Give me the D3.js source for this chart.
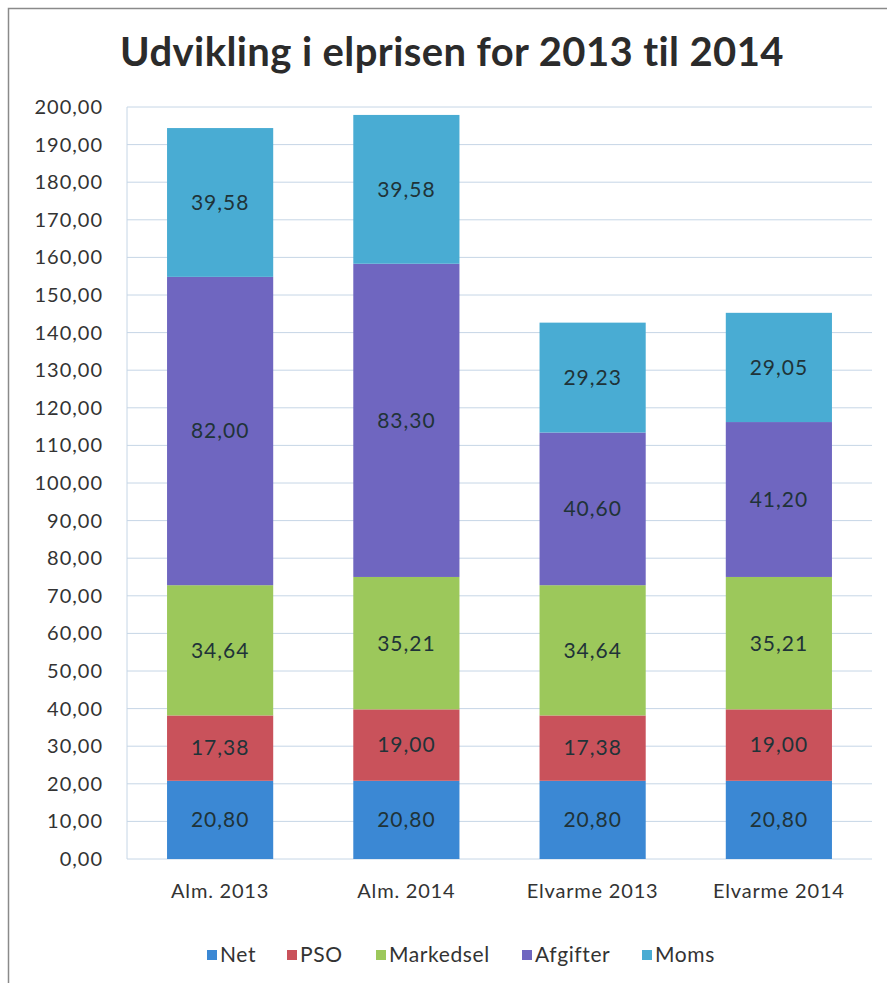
<!DOCTYPE html>
<html>
<head>
<meta charset="utf-8">
<script src="https://cdn.jsdelivr.net/npm/d3@7"></script>
<style>
  body { margin: 0; background: #fff; }
  svg { display: block; font-family: Lato, "Open Sans", sans-serif; }
</style>
</head>
<body>
<svg id="chart" width="887" height="983"></svg>
<script>
// Udvikling i elprisen, stacked columns

const categories = ["Alm. 2013", "Alm. 2014", "Elvarme 2013", "Elvarme 2014"];
const seriesNames = ["Net", "PSO", "Markedsel", "Afgifter", "Moms"];
const net       = [20.80, 20.80, 20.80, 20.80];
const pso       = [17.38, 19.00, 17.38, 19.00];
const markedsel = [34.64, 35.21, 34.64, 35.21];
const afgifter  = [82.00, 83.30, 40.60, 41.20];
const moms      = [39.58, 39.58, 29.23, 29.05];
const yTicks = d3.range(0, 201, 10);

const colors = ["#3b88d4", "#c9525b", "#9cc85b", "#6f66c0", "#49acd3"];

const width = 887, height = 983;
const margin = { top: 107, right: 15, bottom: 124, left: 127 };

const svg = d3.select("#chart");

// chart frame (scan shows only top and left edges)
svg.append("rect")
  .attr("x", 8.5).attr("y", 8.5)
  .attr("width", 900).attr("height", 1000)
  .attr("fill", "none")
  .attr("stroke", "#8a8a8a")
  .attr("stroke-width", 1.5);

svg.append("text")
  .attr("x", 452).attr("y", 66)
  .attr("text-anchor", "middle")
  .attr("font-size", 40)
  .attr("font-weight", "bold")
  .attr("letter-spacing", 0.4)
  .attr("fill", "#2b2b2b")
  .text("Udvikling i elprisen for 2013 til 2014");

const rows = categories.map((c, i) => ({
  cat: c, Net: net[i], PSO: pso[i], Markedsel: markedsel[i], Afgifter: afgifter[i], Moms: moms[i]
}));

const x = d3.scaleBand()
  .domain(categories)
  .range([margin.left, width - margin.right])
  .paddingInner(0.43)
  .paddingOuter(0.215);

const y = d3.scaleLinear()
  .domain([0, 200])
  .range([height - margin.bottom, margin.top]);

// gridlines
svg.append("g")
  .selectAll("line")
  .data(yTicks)
  .join("line")
  .attr("x1", margin.left).attr("x2", width - margin.right)
  .attr("y1", d => y(d)).attr("y2", d => y(d))
  .attr("stroke", "#c6d6e6")
  .attr("stroke-width", 1);

svg.append("line")
  .attr("x1", margin.left).attr("x2", margin.left)
  .attr("y1", y(200)).attr("y2", y(0))
  .attr("stroke", "#c6d6e6");

// y axis
const yAxis = svg.append("g")
  .attr("transform", `translate(${margin.left - 24},0)`)
  .call(d3.axisLeft(y).tickValues(yTicks).tickSize(0).tickPadding(0)
    .tickFormat(d => d3.format(".2f")(d).replace(".", ",")));
yAxis.select(".domain").remove();
yAxis.selectAll("text")
  .attr("font-size", 20)
  .attr("letter-spacing", 1)
  .attr("fill", "#333")
  .attr("font-family", "Lato, sans-serif");

// x axis labels
const xAxis = svg.append("g")
  .attr("transform", `translate(0,${y(0) + 25})`)
  .call(d3.axisBottom(x).tickSize(0).tickPadding(0));
xAxis.select(".domain").remove();
xAxis.selectAll("text")
  .attr("font-size", 20)
  .attr("letter-spacing", 0.8)
  .attr("fill", "#333")
  .attr("dy", "0.7em")
  .attr("font-family", "Lato, sans-serif");

// stacked bars
const stack = d3.stack().keys(seriesNames);
const layers = stack(rows);

const layerG = svg.append("g")
  .selectAll("g")
  .data(layers)
  .join("g")
  .attr("fill", (d, i) => colors[i]);

layerG.selectAll("rect")
  .data(d => d)
  .join("rect")
  .attr("x", d => x(d.data.cat))
  .attr("width", x.bandwidth())
  .attr("y", d => y(d[1]))
  .attr("height", d => y(d[0]) - y(d[1]));

layerG.selectAll("text")
  .data(d => d)
  .join("text")
  .attr("x", d => x(d.data.cat) + x.bandwidth() / 2)
  .attr("y", d => y((d[0] + d[1]) / 2))
  .attr("dy", "0.35em")
  .attr("text-anchor", "middle")
  .attr("font-size", 21)
  .attr("letter-spacing", 1)
  .attr("fill", "#1f3338")
  .text(d => d3.format(".2f")(d[1] - d[0]).replace(".", ","));

// legend
const legendX = [207, 287, 376, 522, 642];
const legend = svg.append("g")
  .selectAll("g")
  .data(seriesNames)
  .join("g")
  .attr("transform", (d, i) => `translate(${legendX[i]},955)`);

legend.append("rect")
  .attr("x", 0).attr("y", -5)
  .attr("width", 10).attr("height", 10)
  .attr("fill", (d, i) => colors[i]);

legend.append("text")
  .attr("x", 13)
  .attr("dy", "0.35em")
  .attr("font-size", 21)
  .attr("letter-spacing", 0.6)
  .attr("fill", "#333")
  .text(d => d);
</script>
</body>
</html>
